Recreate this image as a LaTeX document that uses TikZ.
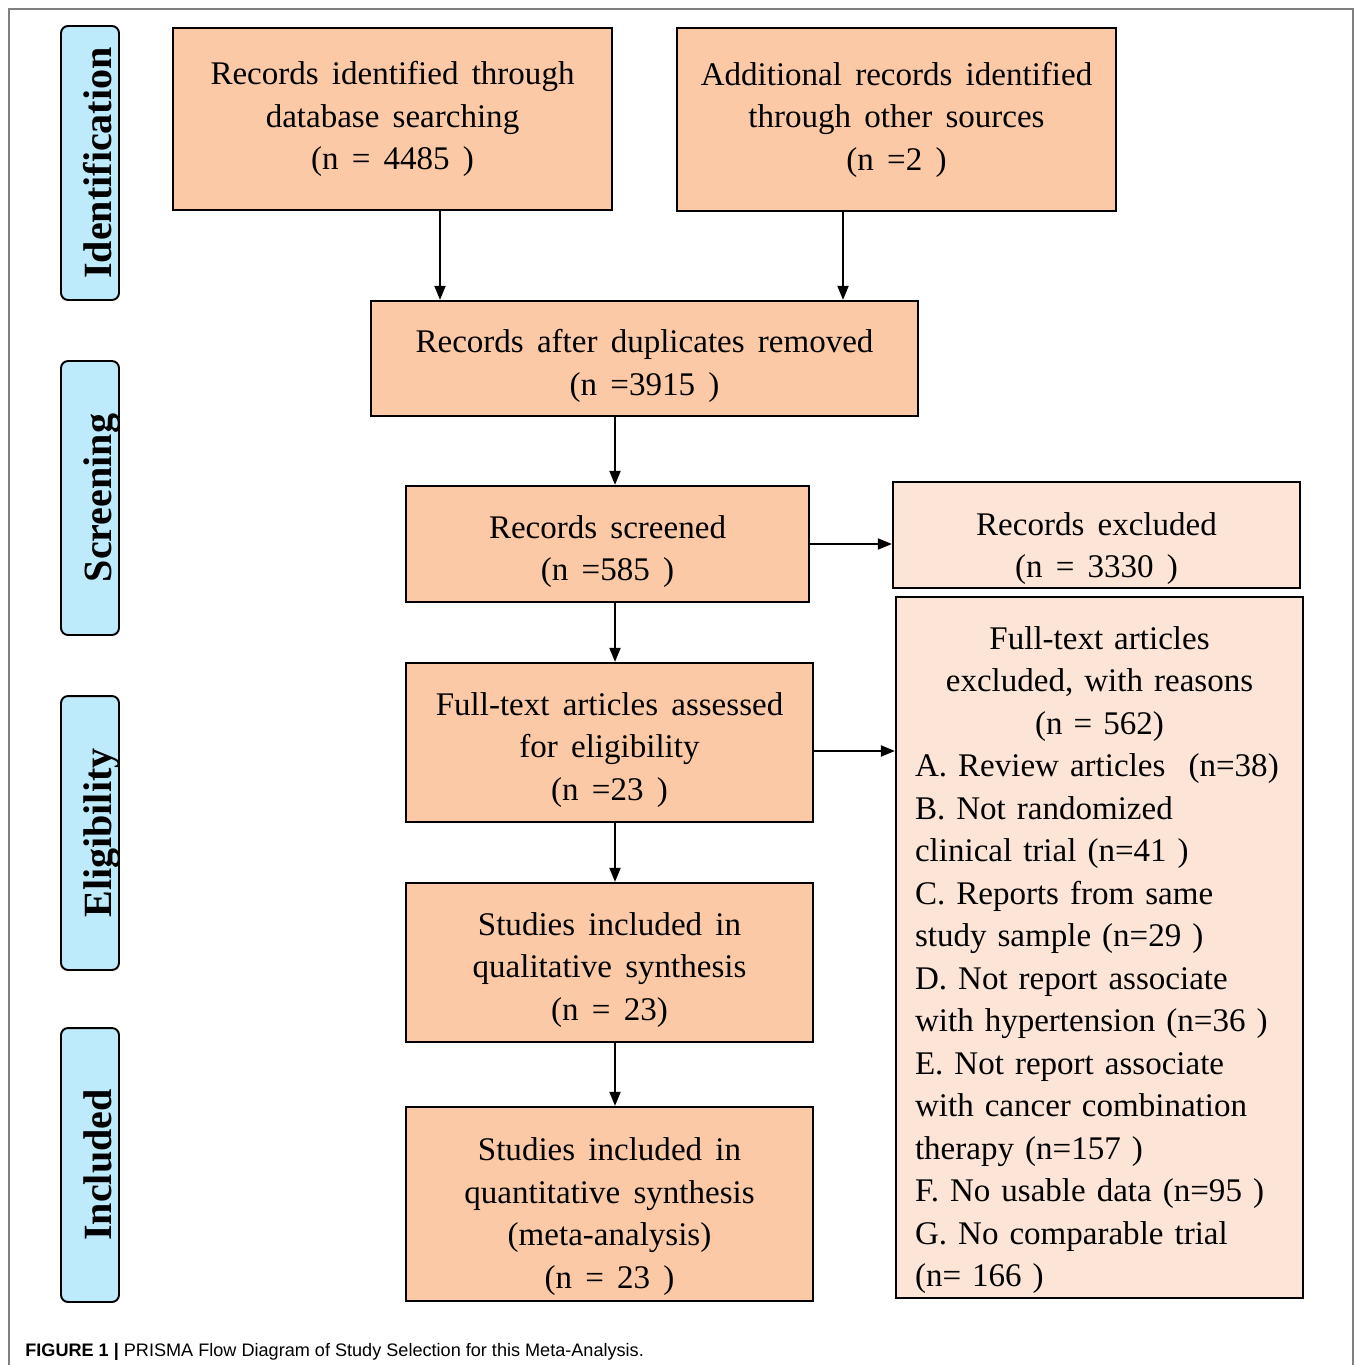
\documentclass[tikz,border=0pt]{standalone}
\usepackage{fontspec}
\setmainfont{Liberation Serif}
\setsansfont{Liberation Sans}
\newfontfamily\boxserif[WordSpace=1.6]{Liberation Serif}
\usetikzlibrary{arrows.meta}

\definecolor{peach}{HTML}{FBC9A6}
\definecolor{lightpeach}{HTML}{FCE4D6}
\definecolor{tabblue}{HTML}{BDEBFB}
\definecolor{framegray}{HTML}{7F7F7F}

% pushes the first line of a box down a little
\newcommand{\topgap}[1]{\vrule width 0pt height #1 depth 0pt\relax}

\begin{document}
\begin{tikzpicture}[
  x=0.02cm, y=-0.02cm,
  box/.style={
    draw, line width=1.3pt, rectangle, fill=peach,
    align=center, inner sep=2pt,
    font=\boxserif\fontsize{18.8}{24.2}\selectfont
  },
  exbox/.style={box, fill=lightpeach},
  tab/.style={
    draw, line width=1.1pt, rectangle, rounded corners=4pt, fill=tabblue,
    minimum width=1.16cm, minimum height=5.48cm
  },
  tablbl/.style={rotate=90, anchor=base, inner sep=0pt,
    font=\fontsize{22.8}{26}\selectfont\bfseries},
  arr/.style={-{Triangle[length=0.28cm, width=0.22cm]}, line width=1.1pt},
]
\useasboundingbox (0,0) rectangle (1355,1365);
\draw[framegray, line width=0.6pt] (9,1365) -- (9,9) -- (1353,9) -- (1353,1365);

% phase tabs
\node[tab] (tabident) at (90,163)  {};
\node[tab] (tabscr)   at (90,498)  {};
\node[tab] (tabelig)  at (90,833)  {};
\node[tab] (tabincl)  at (90,1165) {};
\node[tablbl] (lblident) at ([xshift=0.44cm]tabident.center) {Identification};
\node[tablbl] (lblscr)   at ([xshift=0.44cm]tabscr.center)   {Screening};
\node[tablbl] (lblelig)  at ([xshift=0.44cm]tabelig.center)  {Eligibility};
\node[tablbl] (lblincl)  at ([xshift=0.44cm]tabincl.center)  {Included};

% flow boxes
\node[box, minimum width=8.78cm, minimum height=3.64cm] (db)    at (392.5,119)
  {Records identified through\\ database searching\\ (n = 4485 )};
\node[box, minimum width=8.78cm, minimum height=3.66cm] (other) at (896.5,119.5)
  {Additional records identified\\ through other sources\\ (n =2 )};
\node[box, minimum width=10.94cm, minimum height=2.3cm] (dup)   at (644.5,358.5)
  {\topgap{0.76cm}Records after duplicates removed\\ (n =3915 )};
\node[box, minimum width=8.06cm, minimum height=2.32cm] (screen) at (607.5,544)
  {\topgap{0.76cm}Records screened\\ (n =585 )};
\node[exbox, minimum width=8.14cm, minimum height=2.08cm] (excl) at (1096.5,535)
  {\topgap{1.0cm}Records excluded\\ (n = 3330 )};
\node[box, minimum width=8.14cm, minimum height=3.18cm] (full) at (609.5,742.5)
  {\topgap{0.76cm}Full-text articles assessed\\ for eligibility\\ (n =23 )};
\node[exbox, align=left, text width=7.38cm, inner xsep=0.38cm,
      minimum height=14.02cm] (fullexcl) at (1099.5,947.5)
  {{\centering\topgap{0.96cm}Full-text articles\\ excluded, with reasons\\ (n = 562)\par}
   \mbox{A. Review articles\hspace{0.7em}(n=38)}\\
   B. Not randomized\\
   clinical trial (n=41 )\\
   C. Reports from same\\
   study sample (n=29 )\\
   D. Not report associate\\
   with hypertension (n=36 )\\
   E. Not report associate\\
   with cancer combination\\
   therapy (n=157 )\\
   F. No usable data (n=95 )\\
   G. No comparable trial\\
   (n= 166 )};
\node[box, minimum width=8.14cm, minimum height=3.18cm] (qual) at (609.5,962.5)
  {\topgap{0.76cm}Studies included in\\ qualitative synthesis\\ (n = 23)};
\node[box, minimum width=8.14cm, minimum height=3.88cm] (quant) at (609.5,1204)
  {\topgap{0.96cm}Studies included in\\ quantitative synthesis\\ (meta-analysis)\\ (n = 23 )};

% arrows
\draw[arr] ([xshift=0.95cm]db.south) -- ([xshift=0.95cm]db.south |- dup.north);
\draw[arr] ([xshift=-1.07cm]other.south) -- ([xshift=-1.07cm]other.south |- dup.north);
\draw[arr] ([xshift=0.15cm]screen.north |- dup.south) -- ([xshift=0.15cm]screen.north);
\draw[arr] (screen.east) -- (screen.east -| excl.west);
\draw[arr] ([xshift=0.15cm]screen.south) -- ([xshift=0.15cm]screen.south |- full.north);
\draw[arr] ([yshift=-0.17cm]full.east) -- ([yshift=-0.17cm]full.east -| fullexcl.west);
\draw[arr] ([xshift=0.11cm]full.south) -- ([xshift=0.11cm]full.south |- qual.north);
\draw[arr] ([xshift=0.11cm]qual.south) -- ([xshift=0.11cm]qual.south |- quant.north);

% caption
\node[anchor=base west, inner sep=0pt, font=\sffamily\fontsize{10.3}{12}\selectfont]
  (caption) at (25,1356)
  {\textbf{FIGURE 1 |} PRISMA Flow Diagram of Study Selection for this Meta-Analysis.};
\end{tikzpicture}
\end{document}
